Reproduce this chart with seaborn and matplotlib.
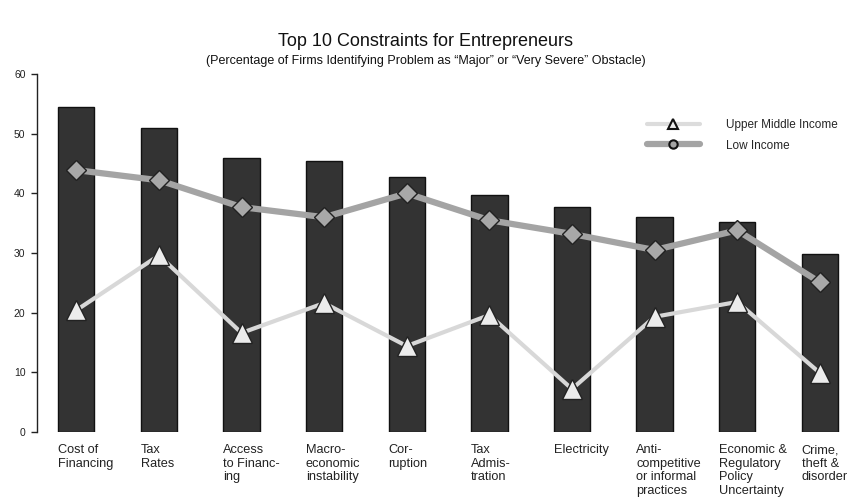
import matplotlib
matplotlib.use("Agg")
import matplotlib.pyplot as plt
import matplotlib.transforms as mtransforms
from matplotlib.lines import Line2D
import seaborn as sns

# Data
categories = ["Cost of\nFinancing", "Tax\nRates", "Access\nto Financ-\ning",
              "Macro-\neconomic\ninstability", "Cor-\nruption", "Tax\nAdmis-\ntration",
              "Electricity", "Anti-\ncompetitive\nor informal\npractices",
              "Economic &\nRegulatory\nPolicy\nUncertainty", "Crime,\ntheft &\ndisorder"]
all_firms = [54.4, 50.9, 45.9, 45.4, 42.7, 39.7, 37.7, 36.0, 35.2, 29.8]
low_income = [43.9, 42.2, 37.7, 36.0, 40.0, 35.5, 33.2, 30.5, 33.8, 25.1]
upper_middle = [20.4, 29.6, 16.6, 21.6, 14.4, 19.6, 7.2, 19.3, 21.8, 9.9]
y_ticks = [0, 10, 20, 30, 40, 50, 60]

sns.set_style("white")
plt.rcParams['font.family'] = ['Liberation Sans', 'DejaVu Sans']

fig = plt.figure(figsize=(8.52, 5.04), dpi=100)
ax = fig.add_axes([0.043, 0.143, 0.957, 0.71])

sns.barplot(x=list(range(10)), y=all_firms, color="#333333", width=0.44,
            edgecolor="#111111", linewidth=1, saturation=1, ax=ax)

sns.pointplot(x=list(range(10)), y=low_income, color="#a4a4a4", marker="D",
              markersize=10, markerfacecolor="#a8a8a8", markeredgecolor="#222222",
              markeredgewidth=1.0, linewidth=4.5, ax=ax)
sns.pointplot(x=list(range(10)), y=upper_middle, color="#d8d8d8", marker="^",
              markersize=15, markerfacecolor="#ececec", markeredgecolor="#222222",
              markeredgewidth=1.0, linewidth=3, ax=ax)

ax.set_ylim(0, 60)
ax.set_xlim(-0.48, 9.39)
ax.set_yticks(y_ticks)
ax.set_yticklabels([str(t) for t in y_ticks], fontsize=7.5, color="#222222")
ax.tick_params(axis="y", left=True, length=4, width=1, color="#222222", pad=4)
ax.set_xticks([])
ax.set_xlabel("")
ax.set_ylabel("")
for side in ["top", "right", "bottom"]:
    ax.spines[side].set_visible(False)
ax.spines["left"].set_color("#222222")
ax.spines["left"].set_linewidth(1)

trans = mtransforms.blended_transform_factory(ax.transData, ax.transAxes)
for i, lab in enumerate(categories):
    ax.text(i - 0.22, -0.035, lab, transform=trans, ha="left", va="top",
            fontsize=9.2, color="#222222", linespacing=1.15)

handles = [
    Line2D([0], [0], color="#dcdcdc", lw=3, marker="^", markersize=7,
           markerfacecolor="#ececec", markeredgecolor="#111111", markeredgewidth=1.5),
    Line2D([0], [0], color="#a4a4a4", lw=4.5, marker="o", markersize=6,
           markerfacecolor="#a4a4a4", markeredgecolor="#111111", markeredgewidth=1.5),
]
ax.legend(handles, ["Upper Middle Income", "Low Income"], loc="upper left",
          bbox_to_anchor=(0.735, 0.905), frameon=False, fontsize=8.5,
          handlelength=4.5, handletextpad=2.2, labelspacing=0.75)

fig.text(0.5, 0.918, "Top 10 Constraints for Entrepreneurs", ha="center",
         va="center", fontsize=13, color="#111111")
fig.text(0.5, 0.878, "(Percentage of Firms Identifying Problem as \u201cMajor\u201d or \u201cVery Severe\u201d Obstacle)",
         ha="center", va="center", fontsize=9, color="#111111")

fig.savefig("out.png", dpi=100, facecolor="white")
